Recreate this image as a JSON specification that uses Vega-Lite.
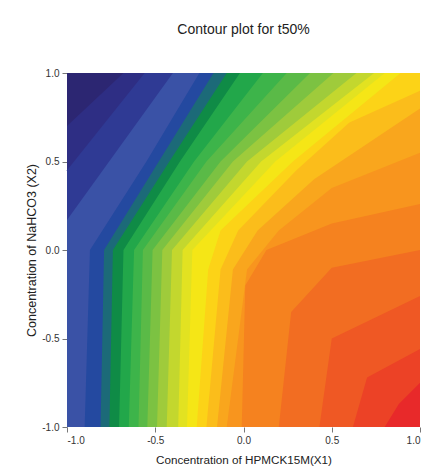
{
  "$schema": "https://vega.github.io/schema/vega-lite/v6.json",
  "width": 353,
  "height": 354,
  "autosize": {"type": "none"},
  "padding": {"left": 67, "top": 73, "right": 15, "bottom": 47},
  "background": "white",
  "title": {"text": "Contour plot for t50%", "font": "Liberation Sans", "fontSize": 14, "fontWeight": "normal", "color": "#222222", "anchor": "middle", "baseline": "alphabetic", "offset": 20},
  "data": {"values": [
    {"level": 0, "x": -1, "y": 1}, {"level": 0, "x": 1, "y": 1},
    {"level": 1, "x": -1, "y": 0.7}, {"level": 1, "x": -0.68, "y": 1}, {"level": 1, "x": 1, "y": 1},
    {"level": 2, "x": -1, "y": 0.45}, {"level": 2, "x": -0.56, "y": 1}, {"level": 2, "x": 1, "y": 1},
    {"level": 3, "x": -1, "y": 0.17}, {"level": 3, "x": -0.4, "y": 1}, {"level": 3, "x": 1, "y": 1},
    {"level": 4, "x": -1, "y": -1}, {"level": 4, "x": -0.9, "y": -1}, {"level": 4, "x": -0.87, "y": 0}, {"level": 4, "x": -0.55, "y": 0.5}, {"level": 4, "x": -0.25, "y": 1}, {"level": 4, "x": 1, "y": 1},
    {"level": 5, "x": -1, "y": -1}, {"level": 5, "x": -0.81, "y": -1}, {"level": 5, "x": -0.79, "y": 0}, {"level": 5, "x": -0.48, "y": 0.5}, {"level": 5, "x": -0.17, "y": 1}, {"level": 5, "x": 1, "y": 1},
    {"level": 6, "x": -1, "y": -1}, {"level": 6, "x": -0.76, "y": -1}, {"level": 6, "x": -0.74, "y": 0}, {"level": 6, "x": -0.42, "y": 0.5}, {"level": 6, "x": -0.095, "y": 1}, {"level": 6, "x": 1, "y": 1},
    {"level": 7, "x": -1, "y": -1}, {"level": 7, "x": -0.705, "y": -1}, {"level": 7, "x": -0.68, "y": 0}, {"level": 7, "x": -0.36, "y": 0.5}, {"level": 7, "x": -0.02, "y": 1}, {"level": 7, "x": 1, "y": 1},
    {"level": 8, "x": -1, "y": -1}, {"level": 8, "x": -0.65, "y": -1}, {"level": 8, "x": -0.62, "y": 0}, {"level": 8, "x": -0.28, "y": 0.5}, {"level": 8, "x": 0.11, "y": 1}, {"level": 8, "x": 1, "y": 1},
    {"level": 9, "x": -1, "y": -1}, {"level": 9, "x": -0.595, "y": -1}, {"level": 9, "x": -0.57, "y": 0}, {"level": 9, "x": -0.21, "y": 0.5}, {"level": 9, "x": 0.245, "y": 1}, {"level": 9, "x": 1, "y": 1},
    {"level": 10, "x": -1, "y": -1}, {"level": 10, "x": -0.545, "y": -1}, {"level": 10, "x": -0.515, "y": 0}, {"level": 10, "x": -0.13, "y": 0.5}, {"level": 10, "x": 0.377, "y": 1}, {"level": 10, "x": 1, "y": 1},
    {"level": 11, "x": -1, "y": -1}, {"level": 11, "x": -0.49, "y": -1}, {"level": 11, "x": -0.46, "y": 0}, {"level": 11, "x": -0.06, "y": 0.5}, {"level": 11, "x": 0.51, "y": 1}, {"level": 11, "x": 1, "y": 1},
    {"level": 12, "x": -1, "y": -1}, {"level": 12, "x": -0.435, "y": -1}, {"level": 12, "x": -0.405, "y": 0}, {"level": 12, "x": 0.02, "y": 0.5}, {"level": 12, "x": 0.64, "y": 1}, {"level": 12, "x": 1, "y": 1},
    {"level": 13, "x": -1, "y": -1}, {"level": 13, "x": -0.37, "y": -1}, {"level": 13, "x": -0.345, "y": 0}, {"level": 13, "x": 0.1, "y": 0.5}, {"level": 13, "x": 0.74, "y": 1}, {"level": 13, "x": 1, "y": 1},
    {"level": 14, "x": -1, "y": -1}, {"level": 14, "x": -0.32, "y": -1}, {"level": 14, "x": -0.29, "y": 0}, {"level": 14, "x": 0.18, "y": 0.5}, {"level": 14, "x": 0.8, "y": 1}, {"level": 14, "x": 1, "y": 1},
    {"level": 15, "x": -1, "y": -1}, {"level": 15, "x": -0.265, "y": -1}, {"level": 15, "x": -0.2, "y": -0.11}, {"level": 15, "x": -0.13, "y": 0.11}, {"level": 15, "x": 0.28, "y": 0.5}, {"level": 15, "x": 0.89, "y": 1}, {"level": 15, "x": 1, "y": 1},
    {"level": 16, "x": -1, "y": -1}, {"level": 16, "x": -0.21, "y": -1}, {"level": 16, "x": -0.13, "y": -0.11}, {"level": 16, "x": -0.03, "y": 0.11}, {"level": 16, "x": 0.3, "y": 0.45}, {"level": 16, "x": 0.6, "y": 0.72}, {"level": 16, "x": 1, "y": 0.9},
    {"level": 17, "x": -1, "y": -1}, {"level": 17, "x": -0.15, "y": -1}, {"level": 17, "x": -0.06, "y": -0.11}, {"level": 17, "x": 0.08, "y": 0.11}, {"level": 17, "x": 0.4, "y": 0.4}, {"level": 17, "x": 1, "y": 0.8},
    {"level": 18, "x": -1, "y": -1}, {"level": 18, "x": -0.095, "y": -1}, {"level": 18, "x": 0.02, "y": -0.11}, {"level": 18, "x": 0.2, "y": 0.11}, {"level": 18, "x": 0.5, "y": 0.35}, {"level": 18, "x": 1, "y": 0.55},
    {"level": 19, "x": -1, "y": -1}, {"level": 19, "x": -0.01, "y": -1}, {"level": 19, "x": 0.01, "y": -0.2}, {"level": 19, "x": 0.13, "y": 0}, {"level": 19, "x": 0.5, "y": 0.15}, {"level": 19, "x": 1, "y": 0.26},
    {"level": 20, "x": -1, "y": -1}, {"level": 20, "x": 0.2, "y": -1}, {"level": 20, "x": 0.27, "y": -0.35}, {"level": 20, "x": 0.5, "y": -0.1}, {"level": 20, "x": 1, "y": 0.0},
    {"level": 21, "x": -1, "y": -1}, {"level": 21, "x": 0.43, "y": -1}, {"level": 21, "x": 0.5, "y": -0.5}, {"level": 21, "x": 1, "y": -0.26},
    {"level": 22, "x": -1, "y": -1}, {"level": 22, "x": 0.62, "y": -1}, {"level": 22, "x": 0.7, "y": -0.72}, {"level": 22, "x": 1, "y": -0.56},
    {"level": 23, "x": -1, "y": -1}, {"level": 23, "x": 0.8, "y": -1}, {"level": 23, "x": 0.88, "y": -0.87}, {"level": 23, "x": 1, "y": -0.75}
  ]},
  "mark": {"type": "area", "interpolate": "linear", "opacity": 1},
  "encoding": {
    "x": {"field": "x", "type": "quantitative", "scale": {"domain": [-1, 1], "nice": false, "zero": false},
      "axis": {"values": [-1, -0.5, 0, 0.5, 1], "format": ".1f", "labelExpr": "replace(datum.label, '\u2212', '-')", "title": "Concentration of HPMCK15M(X1)", "grid": false, "domain": false, "tickColor": "#777777", "tickSize": 5, "labelFont": "Liberation Sans", "labelFontSize": 10, "labelColor": "#333333", "labelPadding": 3, "titleFont": "Liberation Sans", "titleFontSize": 11.7, "titleFontWeight": "normal", "titleColor": "#222222", "titlePadding": 9}},
    "y": {"field": "y", "type": "quantitative", "stack": null, "scale": {"domain": [-1, 1], "nice": false, "zero": false},
      "axis": {"values": [-1, -0.5, 0, 0.5, 1], "format": ".1f", "labelExpr": "replace(datum.label, '\u2212', '-')", "title": "Concentration of NaHCO3 (X2)", "grid": false, "domain": false, "tickColor": "#777777", "tickSize": 5, "labelFont": "Liberation Sans", "labelFontSize": 10, "labelColor": "#333333", "labelPadding": 3, "titleFont": "Liberation Sans", "titleFontSize": 12.5, "titleFontWeight": "normal", "titleColor": "#222222", "titlePadding": 3}},
    "y2": {"datum": -1},
    "color": {"field": "level", "type": "ordinal", "legend": null,
      "scale": {"domain": [0,1,2,3,4,5,6,7,8,9,10,11,12,13,14,15,16,17,18,19,20,21,22,23],
        "range": ["#2c2672","#2e2e84","#2f3a94","#3a52a6","#2449a0","#1c6a78","#0f8b46","#22a74a","#3db44a","#5aba47","#7cc242","#9fcb3b","#c3d72e","#e2e221","#f5e616","#fcd317","#fbbd1b","#f9a61d","#f8951e","#f5821f","#f26d22","#ef5824","#ec4226","#e8292a"]}}
  },
  "config": {"view": {"stroke": null}}
}
